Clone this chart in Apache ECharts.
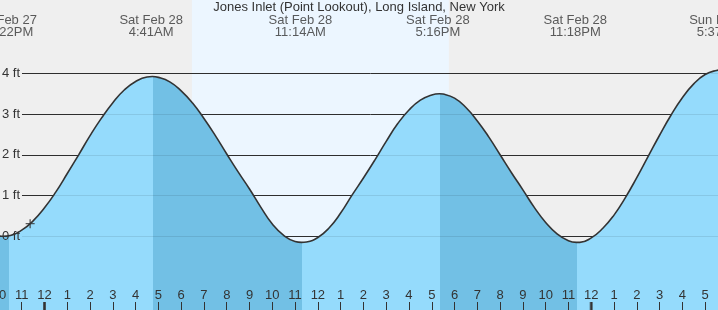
<!DOCTYPE html>
<html>
<head>
<meta charset="utf-8">
<script src="https://cdn.jsdelivr.net/npm/echarts@6/dist/echarts.min.js"></script>
<style>html,body{margin:0;padding:0;background:#efefef;}#c{width:718px;height:310px;}</style>
</head>
<body>
<div id="c"></div>
<script>
// ---- data (hours relative to Sat Feb 28 00:00) ----
const tideHours = [-2,-1.822,-1.5,-1,-0.5,0,0.5,1,1.5,2,2.5,3,3.5,4,4.5,4.732,5,5.5,6,6.5,7,7.5,8,8.5,9,9.5,10,10.5,11,11.282,11.5,12,12.5,13,13.5,14,14.5,15,15.5,16,16.5,17,17.34,17.5,18,18.5,19,19.5,20,20.5,21,21.5,22,22.5,23,23.354,23.5,24,24.5,25,25.5,26,26.5,27,27.5,28,28.5,29,29.5,29.653,30];
const tideFeet  = [0.01,0.00,0.02,0.15,0.38,0.70,1.09,1.54,2.00,2.47,2.90,3.28,3.59,3.80,3.91,3.92,3.90,3.79,3.57,3.27,2.89,2.47,2.02,1.58,1.16,0.71,0.30,0.02,-0.13,-0.15,-0.14,-0.03,0.21,0.57,1.01,1.43,1.87,2.33,2.76,3.10,3.34,3.47,3.50,3.49,3.39,3.16,2.83,2.44,2.00,1.56,1.14,0.71,0.34,0.06,-0.11,-0.15,-0.149,-0.04,0.19,0.52,0.95,1.44,1.96,2.48,2.97,3.40,3.74,3.97,4.07,4.08,4.05];

// periods of falling tide (darker water)
const fallingStart = [-2, 4.76, 17.36];
const fallingEnd   = [-1.56, 11.30, 23.37];

// high / low labels
const eventHours = [-1.633, 4.683, 11.233, 17.267, 23.3, 29.617];
const eventDays  = ['Fri Feb 27','Sat Feb 28','Sat Feb 28','Sat Feb 28','Sat Feb 28','Sun Mar 1'];
const eventTimes = ['10:22PM','4:41AM','11:14AM','5:16PM','11:18PM','5:37AM'];

const daylight = [6.47, 17.75];          // sunrise, sunset
const depthTicks = [0, 1, 2, 3, 4];      // ft
const midnights = [0, 24];
const nowMark = [-0.63, 0.31];           // hour, ft
const titleText = 'Jones Inlet (Point Lookout), Long Island, New York';

// ---- styling / layout ----
const FONT = 'Liberation Sans';
const TXT = '#333';
const GRAY = '#efefef', DAY = '#ecf6ff', LIGHT = '#95dbfc', DARK = '#72c0e5';
const yMin = -1.809, yMax = 5.799;
const xMin = -2, xMax = 30;
const gridStartHour = -0.988;

function fillGradient() {
  const t0 = tideHours[0], t1 = tideHours[tideHours.length - 1];
  const f = h => Math.min(1, Math.max(0, (h - t0) / (t1 - t0)));
  const stops = [];
  let prev = 0;
  fallingStart.forEach((s, i) => {
    stops.push({offset: prev, color: LIGHT}, {offset: f(s), color: LIGHT});
    stops.push({offset: f(s), color: DARK}, {offset: f(fallingEnd[i]), color: DARK});
    prev = f(fallingEnd[i]);
  });
  stops.push({offset: prev, color: LIGHT}, {offset: 1, color: LIGHT});
  return new echarts.graphic.LinearGradient(0, 0, 1, 0, stops);
}

const tideData = tideHours.map((h, i) => [h, tideFeet[i]]);
const lineData = () => depthTicks.map(v => [
  {coord: [gridStartHour, v], name: v + ' ft'},
  {coord: [xMax, v]}
]);

const chart = echarts.init(document.getElementById('c'), null, {renderer: 'canvas'});
chart.setOption({
  animation: false,
  backgroundColor: GRAY,
  textStyle: {fontFamily: FONT},
  title: {
    text: titleText, left: 'center', top: 1, padding: 0,
    textStyle: {fontSize: 13, fontWeight: 'normal', color: TXT, fontFamily: FONT}
  },
  grid: {left: -1.06, right: -9.9, top: 0, bottom: 0, show: true, backgroundColor: GRAY, borderWidth: 0,
         containLabel: false, outerBoundsMode: 'none'},
  xAxis: {
    type: 'value', min: xMin, max: xMax, interval: 1, z: 20, position: 'bottom',
    axisLine: {show: false, onZero: false},
    splitLine: {show: false},
    axisTick: {show: true, inside: true, length: 8, lineStyle: {color: TXT, width: 1}},
    axisLabel: {
      inside: true, margin: 8, fontSize: 13, color: TXT, fontFamily: FONT, hideOverlap: false,
      showMinLabel: true, showMaxLabel: true,
      formatter: v => { const h = ((v % 12) + 12) % 12; return String(h === 0 ? 12 : h); }
    }
  },
  yAxis: {type: 'value', min: yMin, max: yMax, show: false, splitLine: {show: false}},
  series: [
    { // background: daylight + dark grid lines
      type: 'line', data: tideData, symbol: 'none', lineStyle: {opacity: 0}, z: 1, silent: true,
      markArea: {silent: true, z: 1, itemStyle: {color: DAY}, data: [[{xAxis: daylight[0]}, {xAxis: daylight[1]}]]},
      markLine: {silent: true, z: 2, symbol: ['none', 'none'], label: {show: false},
        lineStyle: {color: TXT, width: 1, type: 'solid'}, data: lineData()}
    },
    { // water fill
      type: 'line', data: tideData, smooth: 0.5, symbol: 'none', z: 3, silent: true,
      lineStyle: {opacity: 0, width: 0},
      areaStyle: {origin: 'start', opacity: 1, color: fillGradient()}
    },
    { // faint grid lines over the water + labels
      type: 'line', data: tideData, symbol: 'none', lineStyle: {opacity: 0}, z: 4, silent: true,
      markLine: {silent: true, z: 4, symbol: ['none', 'none'],
        label: {show: true, position: 'start', distance: 2, formatter: '{b}', fontSize: 13, color: TXT, fontFamily: FONT},
        lineStyle: {color: 'rgba(0,0,0,0.09)', width: 1, type: 'solid'}, data: lineData()}
    },
    { // tide curve
      type: 'line', data: tideData, smooth: 0.5, symbol: 'none', z: 5, silent: true,
      lineStyle: {color: '#333', width: 1.6}
    },
    { // current position marker
      type: 'scatter', data: [nowMark], z: 6, silent: true,
      symbol: 'path://M0,5L10,5M5,0L5,10', symbolSize: 9,
      itemStyle: {color: 'rgba(0,0,0,0)', borderColor: '#333', borderWidth: 1.3}
    },
    { // midnight ticks
      type: 'scatter', data: midnights.map(h => [h, yMin]), z: 21, silent: true, clip: false,
      symbol: 'rect', symbolSize: [3, 8], symbolOffset: [0, -4], itemStyle: {color: '#333'}
    },
    { // high / low labels
      type: 'scatter', data: eventHours.map(h => [h, yMax]), z: 21, silent: true, clip: false,
      symbolSize: 1, itemStyle: {color: 'rgba(0,0,0,0)'},
      label: {
        show: true, position: 'bottom', distance: 14, align: 'center',
        fontSize: 13, lineHeight: 12, color: TXT, fontFamily: FONT,
        formatter: p => eventDays[p.dataIndex] + '\n' + eventTimes[p.dataIndex]
      }
    }
  ]
});
</script>
</body>
</html>
